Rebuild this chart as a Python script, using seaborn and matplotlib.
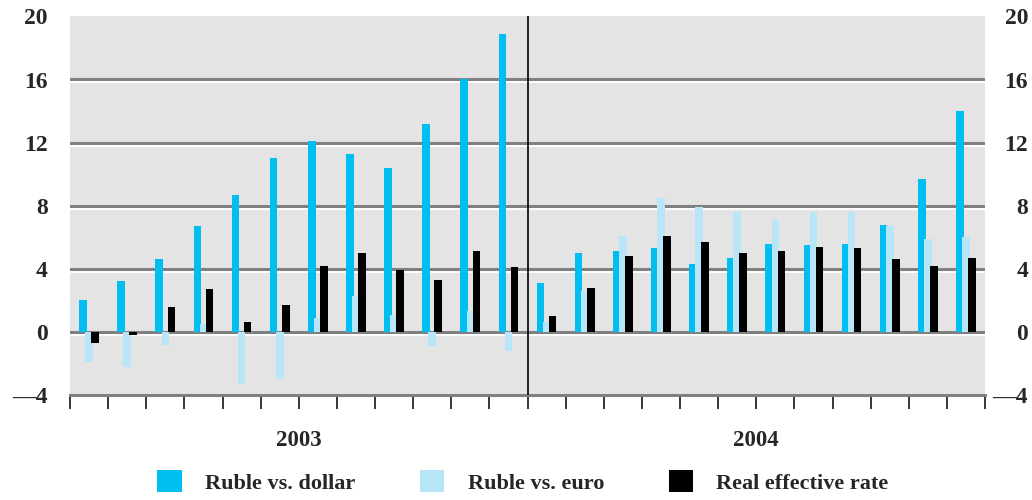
import numpy as np
import pandas as pd
import matplotlib
matplotlib.use("Agg")
import matplotlib.pyplot as plt
import matplotlib.transforms as mtransforms
from matplotlib.patches import Patch
import seaborn as sns

months = [f"2003-{m:02d}" for m in range(1, 13)] + [f"2004-{m:02d}" for m in range(1, 13)]
ruble_dollar = [2.0, 3.2, 4.6, 6.7, 8.7, 11.0, 12.1, 11.3, 10.4, 13.2, 16.0, 18.9,
                3.1, 5.0, 5.1, 5.3, 4.3, 4.7, 5.6, 5.5, 5.6, 6.8, 9.7, 14.0]
ruble_euro = [-1.9, -2.2, -0.8, 0.5, -3.3, -3.0, 0.9, 2.3, 1.1, -0.9, 1.3, -1.2,
              0.6, 2.6, 6.1, 8.5, 7.9, 7.6, 7.1, 7.6, 7.6, 6.7, 5.9, 6.0]
real_rate = [-0.7, -0.2, 1.6, 2.7, 0.6, 1.7, 4.2, 5.0, 3.9, 3.3, 5.1, 4.1,
             1.0, 2.8, 4.8, 6.1, 5.7, 5.0, 5.1, 5.4, 5.3, 4.6, 4.2, 4.7]
series_names = ["Ruble vs. dollar", "Ruble vs. euro", "Real effective rate"]
colors = ["#00BEF0", "#B9E5F8", "#000000"]
years = ["2003", "2004"]
yticks = [-4, 0, 4, 8, 12, 16, 20]
ytick_labels = ["\u20144", "0", "4", "8", "12", "16", "20"]

df = pd.DataFrame({
    "month": months * 3,
    "value": ruble_dollar + ruble_euro + real_rate,
    "series": [series_names[0]] * 24 + [series_names[1]] * 24 + [series_names[2]] * 24,
})

sns.set_theme(style="white")
plt.rcParams["font.family"] = ["Liberation Serif", "DejaVu Serif"]
plt.rcParams["font.weight"] = "bold"

fig = plt.figure(figsize=(10.32, 5.0), dpi=100)
ax = fig.add_axes([70 / 1032, 1 - 395 / 500, (985 - 70) / 1032, (395 - 16.4) / 500])
ax.set_facecolor("#E4E4E4")

sns.barplot(data=df, x="month", y="value", hue="series", hue_order=series_names,
            palette=colors, width=0.48, saturation=1, dodge=True, ax=ax,
            legend=False, edgecolor="none", linewidth=0, zorder=3)

# widen bars slightly so neighbours overlap as in the reference
for p in ax.patches:
    w = p.get_width()
    cx = p.get_x() + w / 2
    p.set_width(0.2)
    p.set_x(cx - 0.1)

# gridlines (gray with white highlight underneath)
for y in [0, 4, 8, 12, 16]:
    ax.axhline(y, color="#808080", lw=2.2, zorder=1)
    ax.axhline(y - 0.19, color="white", lw=1.3, zorder=1)

ax.axvline(11.5, color="black", lw=1.2, zorder=4)

ax.set_xlim(-0.5, 23.5)
ax.set_ylim(-4, 20)
for s in ["top", "left", "right"]:
    ax.spines[s].set_visible(False)
ax.spines["bottom"].set_color("#808080")
ax.spines["bottom"].set_linewidth(2.2)

ax.set_xticks(np.arange(-0.5, 24, 1.0))
ax.set_xticklabels([])
ax.tick_params(axis="x", direction="out", length=10, width=1.1, color="black", bottom=True)
ax.set_xlabel("")
ax.set_ylabel("")

ax.set_yticks(yticks)
ax.set_yticklabels(ytick_labels)
ax.tick_params(axis="y", length=0, labelleft=True, labelright=True, labelsize=17, pad=16)
for lab in ax.get_yticklabels():
    lab.set_fontweight("bold")
# right labels right-aligned near the figure edge
offset = mtransforms.ScaledTranslation(15 / 72, 0, fig.dpi_scale_trans)
for tick in ax.yaxis.get_major_ticks():
    tick.label2.set_horizontalalignment("right")
    tick.label2.set_fontweight("bold")
    tick.label2.set_transform(tick.label2.get_transform() + offset)

# year labels
trans = mtransforms.blended_transform_factory(ax.transData, fig.transFigure)
ax.text(5.5, 1 - 441 / 500, years[0], transform=trans, ha="center", va="center",
        fontsize=16.5, fontweight="bold")
ax.text(17.5, 1 - 441 / 500, years[1], transform=trans, ha="center", va="center",
        fontsize=16.5, fontweight="bold")

handles = [Patch(facecolor=c, edgecolor="none", label=n) for c, n in zip(colors, series_names)]
fig.legend(handles=handles, loc="center", bbox_to_anchor=(523 / 1032, 1 - 482 / 500),
           ncol=3, frameon=False, prop={"size": 16, "weight": "bold"},
           handlelength=1.1, handleheight=1.1, handletextpad=1.05, columnspacing=2.9)

fig.savefig("out.png", dpi=100)
